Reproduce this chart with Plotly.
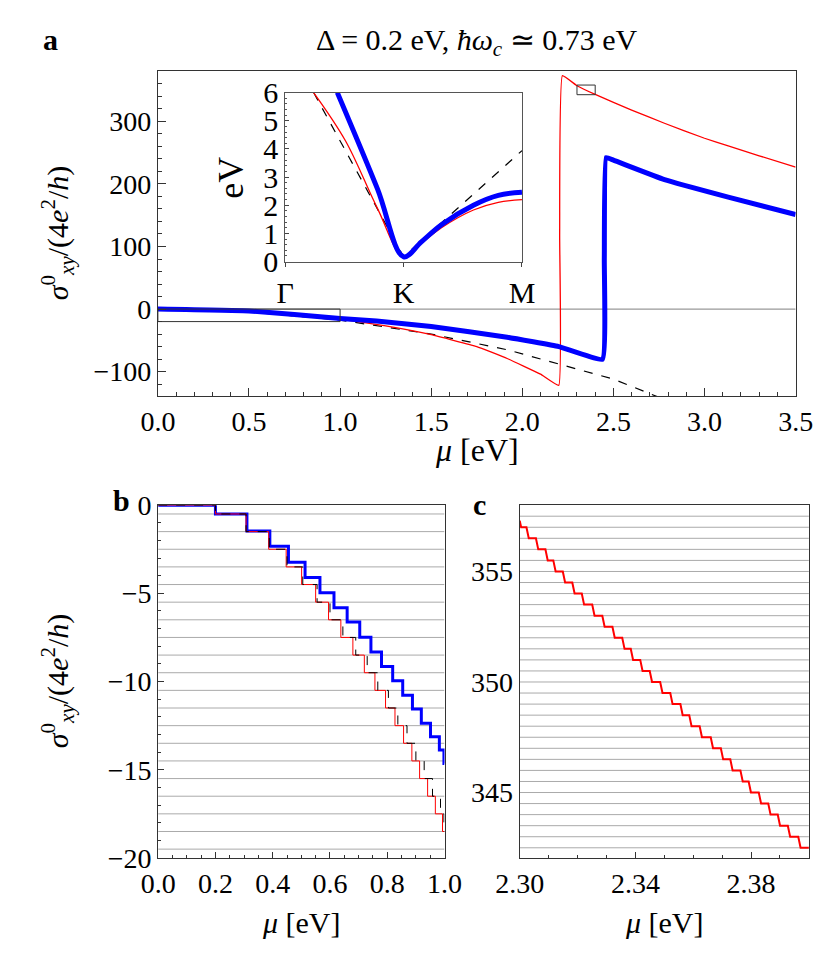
import plotly.graph_objects as go

# ---------- panel a data ----------
a_red_mu = [0, 0.25, 0.5, 0.75, 1.0, 1.25, 1.5, 1.75, 1.917, 2.1, 2.2, 2.205, 2.22, 2.3, 2.4, 2.6, 2.78, 3.0, 3.13, 3.3, 3.5]
a_red_val = [0, -1, -3.5, -8, -16, -27, -41, -60, -79, -104, -122, 120, 373, 357, 343, 318, 297, 273, 261, 245, 227]
a_blue_mu = [0, 0.5, 1.0, 1.2, 1.5, 1.917, 2.2, 2.44, 2.45, 2.46, 2.5, 2.78, 3.13, 3.5]
a_blue_val = [0, -3, -15, -19, -28, -45, -60, -80, 80, 242, 238, 207, 179, 151]
a_dash_mu = [0, 0.5, 1.0, 1.5, 1.917, 2.2, 2.5, 2.75]
a_dash_val = [0, -4.5, -17.6, -40, -65, -88, -112, -141]

# ---------- inset data (band structure) ----------
ins_dash_k = [0.24, 1.0, 2.0]
ins_dash_E = [6.0, 0.17, 3.94]
ins_red_k = [0.24, 0.51, 0.78, 1.0, 1.15, 1.32, 1.59, 1.8, 2.0]
ins_red_E = [6.0, 4.28, 1.88, 0.17, 0.65, 1.2, 1.83, 2.1, 2.2]
ins_blue_k = [0.44, 0.78, 1.0, 1.15, 1.32, 1.59, 1.8, 2.0]
ins_blue_E = [6.0, 2.57, 0.17, 0.7, 1.31, 2.0, 2.35, 2.46]
ins_ticks = ["Γ", "K", "M"]

# ---------- panel b data (step functions) ----------
b_blue_steps = [0.2, 0.31, 0.39, 0.455, 0.513, 0.565, 0.614, 0.66, 0.704, 0.743, 0.78, 0.819, 0.854, 0.888, 0.919, 0.951, 0.982, 0.998]
b_blue_levels = [0, -0.5, -1.46, -2.33, -3.24, -4.1, -4.97, -5.81, -6.63, -7.49, -8.32, -9.14, -9.95, -10.77, -11.55, -12.37, -13.13, -13.88, -14.64]
b_red_steps = [0.2, 0.307, 0.386, 0.447, 0.501, 0.55, 0.595, 0.638, 0.68, 0.72, 0.757, 0.794, 0.827, 0.857, 0.886, 0.913, 0.941, 0.968, 0.993]
b_red_levels = [0, -0.5, -1.5, -2.5, -3.5, -4.5, -5.5, -6.5, -7.5, -8.5, -9.5, -10.5, -11.5, -12.5, -13.5, -14.5, -15.5, -16.5, -17.5, -18.5]
b_dash_steps = [0.2, 0.307, 0.388, 0.45, 0.505, 0.555, 0.6, 0.645, 0.69, 0.73, 0.767, 0.804, 0.837, 0.869, 0.9, 0.929, 0.958, 0.986, 0.998]
b_grid = [-0.5, -1.5, -2.5, -3.5, -4.5, -5.5, -6.5, -7.5, -8.5, -9.5, -10.5, -11.5, -12.5, -13.5, -14.5, -15.5, -16.5, -17.5, -18.5, -19.5]

# ---------- panel c data ----------
c_steps = [2.30273, 2.30601, 2.30929, 2.31202, 2.31530, 2.31858, 2.32186, 2.32547, 2.32896, 2.33246,
           2.33585, 2.33880, 2.34208, 2.34536, 2.34897, 2.35246, 2.35596, 2.35902, 2.36262, 2.36645,
           2.36995, 2.37322, 2.37672, 2.37956, 2.38306, 2.38634, 2.38962, 2.39311, 2.39672]
c_levels = [357.0, 356.5, 356.0, 355.5, 355.0, 354.5, 354.0, 353.5, 353.0, 352.5, 352.0, 351.5, 351.0, 350.5, 350.0,
            349.5, 349.0, 348.5, 348.0, 347.5, 347.0, 346.5, 346.0, 345.5, 345.0, 344.5, 344.0, 343.5, 343.0, 342.5]
c_start = (2.300, 357.3)
c_grid = [342.5, 343.0, 343.5, 344.0, 344.5, 345.0, 345.5, 346.0, 346.5, 347.0, 347.5, 348.0, 348.5, 349.0, 349.5,
          350.0, 350.5, 351.0, 351.5, 352.0, 352.5, 353.0, 353.5, 354.0, 354.5, 355.0, 355.5, 356.0, 356.5, 357.0, 357.5]
c_xticks = [2.30, 2.34, 2.38]


def step_path(steps, levels, x0, x1, w=0.0):
    xs, ys = [x0], [levels[0]]
    for i, s in enumerate(steps):
        xs += [s - w, s + w]
        ys += [levels[i], levels[i + 1]]
    xs.append(x1)
    ys.append(levels[len(steps)])
    return xs, ys


W, H = 830, 957
FONT = "Liberation Serif"
fig = go.Figure()

# panel a
fig.add_trace(go.Scatter(x=a_dash_mu, y=a_dash_val, mode="lines", line=dict(color="black", width=1.2, dash="dash"),
                         xaxis="x", yaxis="y"))
fig.add_trace(go.Scatter(x=a_red_mu, y=a_red_val, mode="lines", line=dict(color="red", width=1.3, shape="spline", smoothing=0.3),
                         xaxis="x", yaxis="y"))
fig.add_trace(go.Scatter(x=a_blue_mu, y=a_blue_val, mode="lines", line=dict(color="blue", width=5, shape="spline", smoothing=0.3),
                         xaxis="x", yaxis="y"))

# inset
fig.add_trace(go.Scatter(x=ins_dash_k, y=ins_dash_E, mode="lines", line=dict(color="black", width=1.2, dash="dash"),
                         xaxis="x2", yaxis="y2"))
fig.add_trace(go.Scatter(x=ins_red_k, y=ins_red_E, mode="lines", line=dict(color="red", width=1.3, shape="spline"),
                         xaxis="x2", yaxis="y2"))
fig.add_trace(go.Scatter(x=ins_blue_k, y=ins_blue_E, mode="lines", line=dict(color="blue", width=5, shape="spline"),
                         xaxis="x2", yaxis="y2"))

# panel b
bx, by = step_path(b_blue_steps, b_blue_levels, 0, 1.0)
fig.add_trace(go.Scatter(x=bx, y=by, mode="lines", line=dict(color="blue", width=3), xaxis="x3", yaxis="y3"))
rx, ry = step_path(b_red_steps, b_red_levels, 0, 1.0)
fig.add_trace(go.Scatter(x=rx, y=ry, mode="lines", line=dict(color="red", width=1), xaxis="x3", yaxis="y3"))
dx, dy = step_path(b_dash_steps, b_red_levels, 0, 1.0)
fig.add_trace(go.Scatter(x=dx, y=dy, mode="lines", line=dict(color="black", width=1, dash="dash"), xaxis="x3", yaxis="y3"))

# panel c
cx, cy = step_path(c_steps, c_levels, c_start[0] + 0.0005, 2.40, w=0.0004)
cx = [c_start[0]] + cx
cy = [c_start[1]] + cy
fig.add_trace(go.Scatter(x=cx, y=cy, mode="lines", line=dict(color="red", width=2), xaxis="x4", yaxis="y4"))


def xd(a, b):
    return [a / W, b / W]


def yd(top, bot):
    return [1 - bot / H, 1 - top / H]


tickfont = dict(family=FONT, size=28, color="black")
common = dict(showgrid=False, zeroline=False, ticks="inside", showline=True, linecolor="#333", linewidth=1.2,
              mirror=True, tickfont=tickfont, tickcolor="#333")

fig.update_layout(
    width=W, height=H, margin=dict(l=0, r=0, t=0, b=0), showlegend=False,
    plot_bgcolor="white", paper_bgcolor="white", font=dict(family=FONT),
    xaxis=dict(domain=xd(131.7, 804.3), anchor="y", range=[0, 3.5], dtick=0.5, tickformat=".1f",
               minor=dict(dtick=0.1, ticks="inside", ticklen=4, tickcolor="#333"), ticklen=8, **common),
    yaxis=dict(domain=yd(47.3, 384.3), anchor="x", range=[-139, 381], dtick=100,
               minor=dict(dtick=20, ticks="inside", ticklen=4, tickcolor="#333"), ticklen=8, **common),
    xaxis2=dict(domain=xd(266, 515.7), anchor="y2", range=[0, 2], tickvals=[0, 1, 2], ticktext=ins_ticks,
                ticks="outside", ticklen=4, showgrid=False, zeroline=False, showline=True, linecolor="#555",
                mirror=True, tickfont=dict(family=FONT, size=30, color="black")),
    yaxis2=dict(domain=yd(70, 245), anchor="x2", range=[0, 6], dtick=1, ticks="inside", ticklen=4,
                minor=dict(dtick=0.2, ticks="inside", ticklen=2, tickcolor="#555"),
                showgrid=False, zeroline=False, showline=True, linecolor="#555", mirror=True,
                tickfont=dict(family=FONT, size=30, color="black")),
    xaxis3=dict(domain=xd(132, 434), anchor="y3", range=[0, 1], dtick=0.2, tickformat=".1f",
                minor=dict(dtick=0.05, ticks="inside", ticklen=3, tickcolor="#333"), ticklen=6, **common),
    yaxis3=dict(domain=yd(497.3, 862.7), anchor="x3", range=[-20, 0], dtick=5,
                minor=dict(dtick=1, ticks="inside", ticklen=3, tickcolor="#333"), ticklen=6, **common),
    xaxis4=dict(domain=xd(513.3, 818.3), anchor="y4", range=[2.30, 2.40], tickvals=c_xticks, tickformat=".2f",
                minor=dict(dtick=0.01, ticks="inside", ticklen=3, tickcolor="#333"), ticklen=6, **common),
    yaxis4=dict(domain=yd(497.3, 862.7), anchor="x4", range=[342.04, 358.0], dtick=5,
                ticks="", showgrid=False, zeroline=False, showline=True, linecolor="#333", linewidth=1.2,
                mirror=True, tickfont=tickfont),
)

shapes = []
shapes.append(dict(type="line", xref="x", yref="y", x0=0, x1=3.5, y0=0, y1=0, line=dict(color="#999", width=1.2), layer="below"))
shapes.append(dict(type="rect", xref="x", yref="y", x0=0, x1=1.0, y0=-20, y1=0, line=dict(color="#333", width=1)))
shapes.append(dict(type="rect", xref="x", yref="y", x0=2.30, x1=2.40, y0=342.6, y1=358, line=dict(color="#333", width=1)))
for g in b_grid:
    shapes.append(dict(type="line", xref="x3", yref="y3", x0=0, x1=1, y0=g, y1=g, line=dict(color="#aaa", width=1), layer="below"))
for g in c_grid:
    shapes.append(dict(type="line", xref="x4", yref="y4", x0=2.30, x1=2.40, y0=g, y1=g, line=dict(color="#aaa", width=1), layer="below"))
fig.update_layout(shapes=shapes)

fig.add_shape(type="rect", xref="paper", yref="paper", x0=266 / W, x1=515.7 / W, y0=1 - 245 / H, y1=1 - 70 / H,
              fillcolor="white", line=dict(width=0), layer="below")

ann = []


def A(text, x, y, size, angle=0, bold=False, xanchor="center"):
    if bold:
        text = "<b>" + text + "</b>"
    ann.append(dict(text=text, x=x / W, y=1 - y / H, xref="paper", yref="paper", showarrow=False,
                    font=dict(family=FONT, size=size, color="black"), textangle=angle, xanchor=xanchor, yanchor="middle"))


A("Δ = 0.2 eV, <i>ħω<sub>c</sub></i> ≃ 0.73 eV", 468, 18, 30)
A("a", 8, 15, 30, bold=True, xanchor="left")
A("b", 82, 492, 30, bold=True, xanchor="left")
A("c", 462, 497, 30, bold=True, xanchor="left")
A("<i>σ</i><sup>0</sup><sub><i>xy</i></sub>/(4<i>e</i><sup>2</sup>/<i>h</i>)", 26, 216, 30, angle=-90)
A("<i>σ</i><sup>0</sup><sub><i>xy</i></sub>/(4<i>e</i><sup>2</sup>/<i>h</i>)", 26, 680, 30, angle=-90)
A("<i>μ</i> [eV]", 468, 440, 32)
A("<i>μ</i> [eV]", 283, 930, 30)
A("<i>μ</i> [eV]", 666, 930, 30)
A("eV", 208, 158, 36, angle=-90)
fig.update_layout(annotations=ann)

fig.write_html("out.html")
